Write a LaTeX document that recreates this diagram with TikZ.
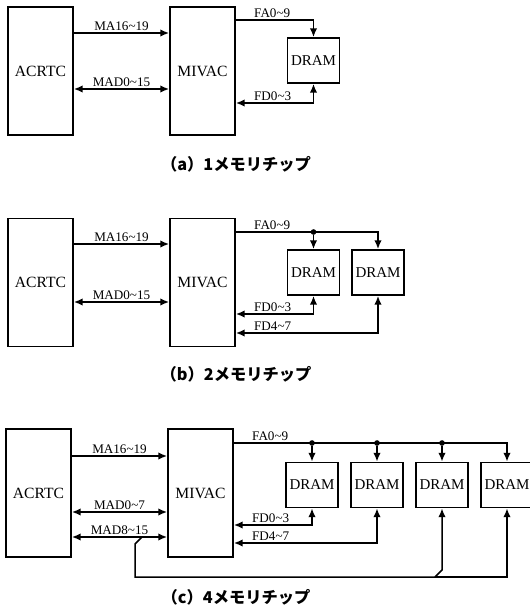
\documentclass[tikz,border=0pt]{standalone}
\usepackage{fontspec}
\setmainfont{Liberation Serif}
\newfontfamily\jpfont{Noto Sans CJK JP}
\usetikzlibrary{arrows.meta,positioning,calc}

\begin{document}
\begin{tikzpicture}[
    x=0.8pt, y=-0.8pt,
    blk/.style={draw, line width=1.5pt, minimum width=52pt, minimum height=102.4pt, inner sep=0pt, font=\fontsize{12.5}{14}\selectfont},
    mem/.style={draw, line width=1.5pt, minimum width=41.6pt, minimum height=36pt, inner sep=0pt, font=\fontsize{12}{14}\selectfont},
    bus/.style={line width=1.2pt},
    tip/.style={-{Latex[length=7pt,width=6pt]}},
    both/.style={{Latex[length=7pt,width=6pt]}-{Latex[length=7pt,width=6pt]}},
    lbl/.style={font=\fontsize{10.5}{12}\selectfont, inner sep=1pt, anchor=south},
    flbl/.style={font=\fontsize{10.5}{12}\selectfont, inner sep=1pt, anchor=south west, pos=0, xshift=13pt},
    dot/.style={circle, fill, inner sep=0pt, minimum size=4.5pt},
    captext/.style={font=\jpfont\bfseries\fontsize{13}{15}\selectfont, inner sep=0pt}
]

  \useasboundingbox (0,0) rectangle (529,605);

  % ---------------------------------------------------------------
  % (a) 1 chip
  % ---------------------------------------------------------------
  \node[blk] (acrtcA) at (40.5,71) {ACRTC};
  \node[blk] (mivacA) at (202.5,71) {MIVAC};
  \node[mem] (dramA) at (313.5,60.5) {DRAM};

  \draw[bus,tip] (acrtcA.east |- 0,33) -- (mivacA.west |- 0,33) node[lbl,midway] {MA16\textasciitilde19};
  \draw[bus,both] (acrtcA.east |- 0,89) -- (mivacA.west |- 0,89) node[lbl,midway] {MAD0\textasciitilde15};
  \draw[bus,tip] (mivacA.east |- 0,20) -| (dramA.north) node[flbl] {FA0\textasciitilde9};
  \draw[bus,both] (mivacA.east |- 0,103) -| (dramA.south) node[flbl] {FD0\textasciitilde3};

  \node[captext] (capA) at (236,164) {（a）1メモリチップ};

  % ---------------------------------------------------------------
  % (b) 2 chips
  % ---------------------------------------------------------------
  \node[blk] (acrtcB) at (40.5,282.5) {ACRTC};
  \node[blk] (mivacB) at (202.5,282.5) {MIVAC};
  \node[mem] (dramB1) at (313.5,272.5) {DRAM};
  \node[mem] (dramB2) at (378,272.5) {DRAM};

  \draw[bus,tip] (acrtcB.east |- 0,244) -- (mivacB.west |- 0,244) node[lbl,midway] {MA16\textasciitilde19};
  \draw[bus,both] (acrtcB.east |- 0,302) -- (mivacB.west |- 0,302) node[lbl,midway] {MAD0\textasciitilde15};
  \draw[bus,tip] (mivacB.east |- 0,232) -| (dramB2.north) node[flbl] {FA0\textasciitilde9};
  \node[dot] (dotB1) at (dramB1.north |- 0,232) {};
  \draw[bus,tip] (dotB1) -- (dramB1.north);
  \draw[bus,both] (mivacB.east |- 0,314) -| (dramB1.south) node[flbl] {FD0\textasciitilde3};
  \draw[bus,both] (mivacB.east |- 0,333) -| (dramB2.south) node[flbl] {FD4\textasciitilde7};

  \node[captext] (capB) at (236,374) {（b）2メモリチップ};

  % ---------------------------------------------------------------
  % (c) 4 chips
  % ---------------------------------------------------------------
  \node[blk] (acrtcC) at (38.5,493) {ACRTC};
  \node[blk] (mivacC) at (200.5,493) {MIVAC};
  \foreach \i/\x in {1/312,2/377,3/442,4/507}
    \node[mem] (dramC\i) at (\x,485) {DRAM};

  \draw[bus,tip] (acrtcC.east |- 0,456) -- (mivacC.west |- 0,456) node[lbl,midway] {MA16\textasciitilde19};
  \draw[bus,both] (acrtcC.east |- 0,512) -- (mivacC.west |- 0,512) node[lbl,midway] {MAD0\textasciitilde7};
  \draw[bus,both] (acrtcC.east |- 0,537) -- (mivacC.west |- 0,537) node[lbl,midway] {MAD8\textasciitilde15};

  \draw[bus,tip] (mivacC.east |- 0,443) -| (dramC4.north) node[flbl] {FA0\textasciitilde9};
  \foreach \i in {1,2,3} {
    \node[dot] (dotC\i) at (dramC\i.north |- 0,443) {};
    \draw[bus,tip] (dotC\i) -- (dramC\i.north);
  }
  \draw[bus,both] (mivacC.east |- 0,525) -| (dramC1.south) node[flbl] {FD0\textasciitilde3};
  \draw[bus,both] (mivacC.east |- 0,543) -| (dramC2.south) node[flbl] {FD4\textasciitilde7};

  % upper data bus to chips 3 and 4
  \coordinate (tapL) at (142,537);
  \coordinate (tapR) at (435,577);
  \draw[bus,tip] (tapL) -- ++(-7,7) |- (tapR) -- ++(7,-7) -- (dramC3.south);
  \draw[bus,tip] (tapR) -| (dramC4.south);

  \node[captext] (capC) at (236,597) {（c）4メモリチップ};

\end{tikzpicture}
\end{document}
